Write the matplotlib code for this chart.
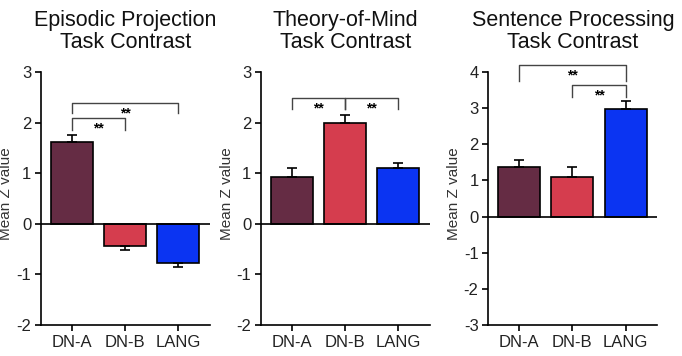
import matplotlib.pyplot as plt
import numpy as np

plt.rcParams['font.family'] = ['Liberation Sans', 'DejaVu Sans']

networks = ["DN-A", "DN-B", "LANG"]
bar_colors = ["#652c44", "#d53d4e", "#0b34f2"]

titles = ["Episodic Projection\nTask Contrast",
          "Theory-of-Mind\nTask Contrast",
          "Sentence Processing\nTask Contrast"]

ep_means = [1.62, -0.43, -0.78]
ep_errs = [0.13, 0.08, 0.07]
tom_means = [0.93, 2.00, 1.10]
tom_errs = [0.17, 0.15, 0.10]
sent_means = [1.38, 1.10, 2.97]
sent_errs = [0.19, 0.28, 0.23]

means = [ep_means, tom_means, sent_means]
errs = [ep_errs, tom_errs, sent_errs]
ylims = [(-2, 3), (-2, 3), (-3, 4)]

# significance brackets: (i, j, top, drop)
ep_sig = [(0, 1, 2.09, 1.86), (0, 2, 2.39, 2.19)]
tom_sig = [(0, 1, 2.49, 2.27), (1, 2, 2.49, 2.27)]
sent_sig = [(0, 2, 4.20, 3.74), (1, 2, 3.65, 3.32)]
sigs = [ep_sig, tom_sig, sent_sig]

fig = plt.figure(figsize=(6.82, 3.56), dpi=100)
lefts = [0.060, 0.383, 0.716]
x = np.arange(3)

for k in range(3):
    ax = fig.add_axes([lefts[k], 0.087, 0.248, 0.711])
    m = np.array(means[k])
    e = np.array(errs[k])
    up = np.where(m >= 0, e, 0)
    dn = np.where(m < 0, e, 0)
    ax.bar(x, m, width=0.79, color=bar_colors, edgecolor="black",
           linewidth=1.2, zorder=2)
    ax.errorbar(x, m, yerr=[dn, up], fmt="none", ecolor="black",
                elinewidth=1.2, capsize=3.5, capthick=1.2, zorder=3)
    ax.axhline(0, color="black", lw=1.2, zorder=4)
    ax.set_xlim(-0.58, 2.6)
    ax.set_ylim(*ylims[k])
    yt = list(range(ylims[k][0], ylims[k][1] + 1))
    ax.set_yticks(yt)
    ax.set_yticklabels([str(v) for v in yt])  # plain hyphen minus
    ax.set_xticks(x)
    ax.set_xticklabels(networks)
    for s in ["top", "right"]:
        ax.spines[s].set_visible(False)
    for s in ["left", "bottom"]:
        ax.spines[s].set_linewidth(1.2)
    ax.tick_params(direction="out", length=4, width=1.2, labelsize=12,
                   pad=3, labelcolor="#222222")
    ax.set_ylabel("Mean Z value", fontsize=11, color="#333333")
    ax.yaxis.set_label_coords(-0.163, 0.52)
    ax.set_title(titles[k], fontsize=15.5, pad=17, linespacing=1.1,
                 color="#111111")

    span = ylims[k][1] - ylims[k][0]
    for i, j, top, drop in sigs[k]:
        ax.plot([i, i, j, j], [drop, top, top, drop], color="#444444", lw=1.0,
                clip_on=False, zorder=5)
        ax.text((i + j) / 2, top - 0.015 * span, "**", ha="center", va="top",
                fontsize=10, fontweight="bold", clip_on=False)

fig.savefig("out.png", dpi=100)
